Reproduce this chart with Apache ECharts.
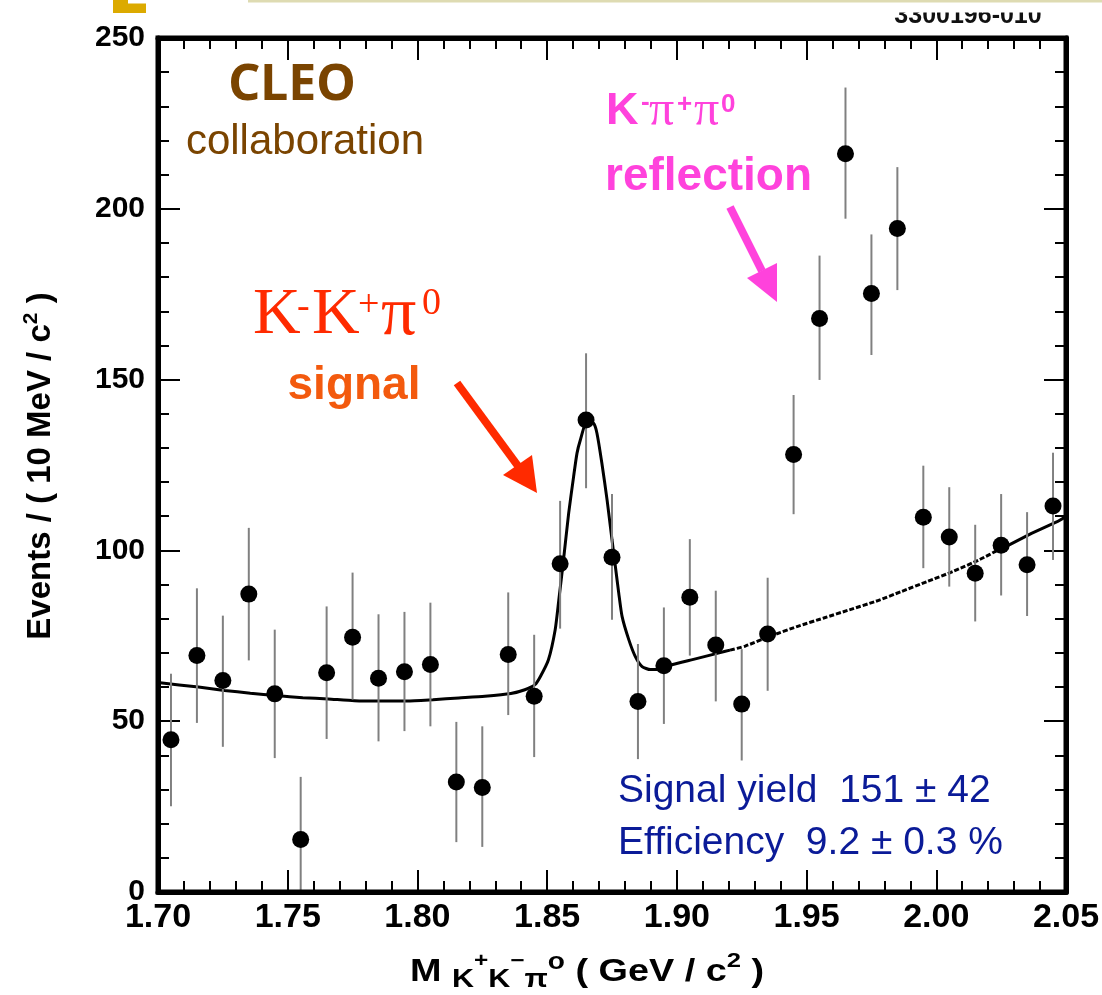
<!DOCTYPE html>
<html>
<head>
<meta charset="utf-8">
<script src="https://cdn.jsdelivr.net/npm/echarts@6.0.0/dist/echarts.min.js"></script>
<style>
html,body{margin:0;padding:0;background:#fff;}
#c{width:1102px;height:995px;}
</style>
</head>
<body>
<div id="c"></div>
<script>
// ---- data ----
const binCenters = [1.705,1.715,1.725,1.735,1.745,1.755,1.765,1.775,1.785,1.795,
  1.805,1.815,1.825,1.835,1.845,1.855,1.865,1.875,1.885,1.895,
  1.905,1.915,1.925,1.935,1.945,1.955,1.965,1.975,1.985,1.995,
  2.005,2.015,2.025,2.035,2.045];
const events = [44.6,69.2,61.9,87.2,58.0,15.4,64.2,74.6,62.6,64.5,
  66.6,32.2,30.6,69.5,57.3,96.1,138.2,98.0,55.8,66.2,
  86.3,72.3,55.0,75.5,128.1,167.9,216.1,175.2,194.2,109.7,
  103.9,93.3,101.5,95.8,113.0];
const errLow = [25.1,49.5,42.5,67.8,39.2,0,44.8,56.3,44.1,47.1,
  48.5,14.6,13.2,51.8,39.5,77.1,118.2,79.7,38.9,49.2,
  69.2,55.8,38.5,58.9,110.6,149.9,197.1,157.2,176.2,94.8,
  89.4,79.2,86.8,80.8,97.2];
const errHigh = [63.9,88.9,80.9,106.6,76.8,33.7,83.6,93.5,81.3,82.0,
  84.7,49.8,48.5,87.7,75.3,114.5,157.7,116.5,72.6,83.3,
  103.3,88.2,71.1,92.0,145.5,186.3,235.5,192.5,212.2,124.8,
  118.5,107.5,116.5,111.2,128.6];
// fit curve (solid part, dashed part over the reflection region, solid tail)
const fitMain = [[1.700,61.3],[1.7156,60.0],[1.7256,59.0],[1.7356,58.2],[1.7457,57.5],
  [1.7558,56.9],[1.7656,56.5],[1.7757,56.0],[1.7857,55.9],[1.796,55.9],[1.806,56.3],
  [1.816,56.8],[1.826,57.3],[1.836,58.1],[1.8414,59.2],[1.8453,60.7],[1.8474,63.1],
  [1.8505,68.0],[1.8531,76.8],[1.8545,85.5],[1.8563,97.2],[1.8583,110.9],[1.8602,121.6],
  [1.8615,128.4],[1.8628,132.3],[1.8653,137.7],[1.8679,137.2],[1.8692,134.3],[1.8711,125.5],
  [1.8731,114.8],[1.875,103.1],[1.8763,95.3],[1.8776,87.5],[1.8789,80.6],[1.8815,73.8],
  [1.884,68.9],[1.8866,66.0],[1.8898,65.1],[1.8937,65.3],[1.8966,66.2],[1.9064,68.1],
  [1.9163,70.0],[1.9205,70.8]];
const fitDashed = [[1.9205,70.8],[1.9264,72.0],[1.9364,75.0],[1.9463,77.7],[1.9566,80.2],
  [1.9665,82.6],[1.9767,85.1],[1.9867,88.0],[1.9965,90.9],[2.0067,93.9],[2.0167,97.3],[2.025,100.6]];
const fitTail = [[2.025,100.6],[2.0268,101.1],[2.0367,105.0],[2.0466,108.4],[2.05,109.9]];
// axes
const xTickLabels = ['1.70','1.75','1.80','1.85','1.90','1.95','2.00','2.05'];
const yTickLabels = ['0','50','100','150','200','250'];
const xMin = 1.70, xMax = 2.05, xStep = 0.05;
const yMin = 0, yMax = 250, yStep = 50;

// ---- chart ----
const chart = echarts.init(document.getElementById('c'), null, {renderer: 'canvas'});
const FONT = "'Liberation Sans', Arial, Helvetica, sans-serif";
const SERIF = "'Liberation Serif', 'Times New Roman', serif";

function axisBase(pos, isX, showLabel) {
  const a = {
    type: 'value',
    position: pos,
    min: isX ? xMin : yMin,
    max: isX ? xMax : yMax,
    interval: isX ? xStep : yStep,
    axisLine: {show: true, onZero: false, lineStyle: {color: '#000', width: 5}},
    axisTick: {show: true, inside: true, length: 22, lineStyle: {color: '#000', width: 2}},
    minorTick: {show: true, splitNumber: 5, length: 11, lineStyle: {color: '#000', width: 2}},
    splitLine: {show: false},
    minorSplitLine: {show: false},
    axisLabel: {show: showLabel}
  };
  if (showLabel) {
    if (isX) {
      a.axisLabel = {show: true, color: '#000', fontFamily: FONT, fontWeight: 'bold', fontSize: 34, margin: 9,
        formatter: v => xTickLabels[Math.round((v - xMin) / xStep)]};
    } else {
      a.axisLabel = {show: true, color: '#000', fontFamily: FONT, fontWeight: 'bold', fontSize: 30, margin: 13,
        formatter: v => yTickLabels[Math.round((v - yMin) / yStep)]};
    }
  }
  return a;
}

const txt = (o) => Object.assign({type: 'text', z: 100}, o);
const st = (o) => {
  const s = Object.assign({fontFamily: FONT}, o);
  if (s.align) s.textAlign = s.align;
  if (s.verticalAlign) s.textVerticalAlign = s.verticalAlign;
  return s;
};
const RED = '#ff2a00', ORANGE = '#f35a0e', MAG = '#ff42dc', BROWN = '#7a4400', BLUE = '#0b1b98';
const redShadow = {shadowColor: 'rgba(0,0,0,0.22)', shadowBlur: 2, shadowOffsetX: 2, shadowOffsetY: 2};

const graphics = [
  // slide decorations
  {type: 'rect', z: 100, shape: {x: 248, y: 0, width: 854, height: 2.5}, style: {fill: '#dedbb2'}},
  {type: 'rect', z: 100, shape: {x: 113, y: 0, width: 15, height: 13}, style: {fill: '#dcaa00'}},
  {type: 'rect', z: 100, shape: {x: 113, y: 3.5, width: 33, height: 9.5}, style: {fill: '#dcaa00'}},
  txt({x: 968, y: 16, style: st({text: '3300196-010', fontSize: 25, fontWeight: 'bold', fill: '#111', align: 'center', verticalAlign: 'middle'})}),
  {type: 'rect', z: 101, shape: {x: 880, y: 3, width: 180, height: 9.5}, style: {fill: '#fff'}},
  // CLEO
  txt({x: 292, y: 86, style: st(Object.assign({text: 'CLEO', fontFamily: "'Noto Sans', sans-serif", fontSize: 50, fontWeight: 'bold', fill: BROWN, align: 'center', verticalAlign: 'middle'}, {shadowColor: 'rgba(0,0,0,0.25)', shadowBlur: 2, shadowOffsetX: 2, shadowOffsetY: 2}))}),
  txt({x: 305, y: 142, style: st({text: 'collaboration', fontSize: 42, fill: BROWN, align: 'center', verticalAlign: 'middle'})}),
  // signal label
  txt({x: 253, y: 316, style: st(Object.assign({text: 'K', fontFamily: SERIF, fontSize: 66, fill: RED, align: 'left', verticalAlign: 'middle'}, redShadow))}),
  txt({x: 297, y: 308, style: st(Object.assign({text: '-', fontFamily: SERIF, fontSize: 38, fill: RED, align: 'left', verticalAlign: 'middle'}, redShadow))}),
  txt({x: 312, y: 316, style: st(Object.assign({text: 'K', fontFamily: SERIF, fontSize: 66, fill: RED, align: 'left', verticalAlign: 'middle'}, redShadow))}),
  txt({x: 358, y: 306, style: st(Object.assign({text: '+', fontFamily: SERIF, fontSize: 38, fill: RED, align: 'left', verticalAlign: 'middle'}, redShadow))}),
  txt({x: 381, y: 316, style: st(Object.assign({text: 'π', fontFamily: SERIF, fontSize: 70, fill: RED, align: 'left', verticalAlign: 'middle'}, redShadow))}),
  txt({x: 422, y: 304, style: st(Object.assign({text: '0', fontFamily: SERIF, fontSize: 38, fill: RED, align: 'left', verticalAlign: 'middle'}, redShadow))}),
  txt({x: 354, y: 386, style: st({text: 'signal', fontSize: 46, fontWeight: 'bold', fill: ORANGE, align: 'center', verticalAlign: 'middle'})}),
  {type: 'polyline', z: 100, shape: {points: [[457, 383], [518, 466]]}, style: {stroke: RED, lineWidth: 8, fill: null}},
  {type: 'polygon', z: 100, shape: {points: [[503, 475], [532, 455], [537, 493]]}, style: {fill: RED}},
  // reflection label
  txt({x: 606, y: 112, style: st({text: 'K', fontSize: 45, fontWeight: 'bold', fill: MAG, align: 'left', verticalAlign: 'middle'})}),
  txt({x: 641, y: 103, style: st({text: '-', fontSize: 26, fontWeight: 'bold', fill: MAG, align: 'left', verticalAlign: 'middle'})}),
  txt({x: 649, y: 112, style: st({text: 'π', fontFamily: SERIF, fontSize: 50, fill: MAG, align: 'left', verticalAlign: 'middle'})}),
  txt({x: 677, y: 105, style: st({text: '+', fontSize: 26, fontWeight: 'bold', fill: MAG, align: 'left', verticalAlign: 'middle'})}),
  txt({x: 694, y: 112, style: st({text: 'π', fontFamily: SERIF, fontSize: 50, fill: MAG, align: 'left', verticalAlign: 'middle'})}),
  txt({x: 721, y: 105, style: st({text: '0', fontSize: 26, fontWeight: 'bold', fill: MAG, align: 'left', verticalAlign: 'middle'})}),
  txt({x: 605, y: 177, style: st({text: 'reflection', fontSize: 46, fontWeight: 'bold', fill: MAG, align: 'left', verticalAlign: 'middle'})}),
  {type: 'polyline', z: 100, shape: {points: [[730, 207], [762, 271]]}, style: {stroke: MAG, lineWidth: 8, fill: null}},
  {type: 'polygon', z: 100, shape: {points: [[747, 278], [777, 263], [777, 302]]}, style: {fill: MAG}},
  // fit results
  txt({x: 618, y: 791, style: st({text: 'Signal yield  151 ± 42', fontSize: 39, fill: BLUE, align: 'left', verticalAlign: 'middle'})}),
  txt({x: 618, y: 843, style: st({text: 'Efficiency  9.2 ± 0.3 %', fontSize: 39, fill: BLUE, align: 'left', verticalAlign: 'middle'})}),
  // x axis title
  {type: 'text', z: 100, x: 587, y: 972, scaleX: 1.22,
    style: {
      text: '{m|M }{sb|K}{sp|+}{sb|K}{sp|−}{sb|π}{so|o}{m| ( GeV / c}{s2|2}{m| )}',
      align: 'center', verticalAlign: 'middle', textAlign: 'center', textVerticalAlign: 'middle',
      fill: '#000', fontFamily: FONT, fontWeight: 'bold', fontSize: 31,
      rich: {
        m: {fontFamily: FONT, fontWeight: 'bold', fontSize: 31, lineHeight: 42, fill: '#000', color: '#000'},
        sb: {fontFamily: FONT, fontWeight: 'bold', fontSize: 25, lineHeight: 22, verticalAlign: 'bottom', fill: '#000', color: '#000'},
        sp: {fontFamily: FONT, fontWeight: 'bold', fontSize: 20, lineHeight: 32, verticalAlign: 'top', fill: '#000', color: '#000'},
        so: {fontFamily: FONT, fontWeight: 'bold', fontSize: 23, lineHeight: 32, verticalAlign: 'top', fill: '#000', color: '#000'},
        s2: {fontFamily: FONT, fontWeight: 'bold', fontSize: 21, lineHeight: 6, verticalAlign: 'top', fill: '#000', color: '#000'}
      }
    }},
  // y axis title
  {type: 'text', z: 100, x: 41, y: 466, rotation: Math.PI / 2,
    style: {
      text: '{a|Events / ( 10 MeV / c}{s|2}{a| )}',
      align: 'center', verticalAlign: 'middle', textAlign: 'center', textVerticalAlign: 'middle',
      fill: '#000', fontFamily: FONT, fontWeight: 'bold', fontSize: 33,
      rich: {
        a: {fontFamily: FONT, fontWeight: 'bold', fontSize: 33, lineHeight: 40, fill: '#000', color: '#000'},
        s: {fontFamily: FONT, fontWeight: 'bold', fontSize: 21, lineHeight: 4, verticalAlign: 'top', fill: '#000', color: '#000'}
      }
    }}
];

const option = {
  backgroundColor: '#fff',
  animation: false,
  grid: {left: 158, right: 36, top: 38, bottom: 103, containLabel: false, outerBoundsMode: 'none',
    show: true, borderWidth: 5, borderColor: '#000', backgroundColor: 'transparent', z: 6},
  xAxis: [axisBase('bottom', true, true), axisBase('top', true, false)],
  yAxis: [axisBase('left', false, true), axisBase('right', false, false)],
  series: [
    {type: 'line', xAxisIndex: 0, yAxisIndex: 0, data: fitMain, showSymbol: false, symbol: 'none', smooth: 0.2,
      lineStyle: {color: '#000', width: 3}, z: 2, silent: true},
    {type: 'line', xAxisIndex: 0, yAxisIndex: 0, data: fitDashed, showSymbol: false, symbol: 'none', smooth: 0.2,
      lineStyle: {color: '#000', width: 3, type: [5, 2]}, z: 2, silent: true},
    {type: 'line', xAxisIndex: 0, yAxisIndex: 0, data: fitTail, showSymbol: false, symbol: 'none',
      lineStyle: {color: '#000', width: 3}, z: 2, silent: true},
    {type: 'custom', xAxisIndex: 0, yAxisIndex: 0, z: 3, clip: true,
      data: binCenters.map((x, i) => [x, errLow[i], errHigh[i]]),
      encode: {x: 0, y: [1, 2]},
      renderItem: function (params, api) {
        const x = api.value(0);
        const p1 = api.coord([x, api.value(1)]);
        const p2 = api.coord([x, api.value(2)]);
        return {type: 'line', shape: {x1: p1[0], y1: p1[1], x2: p2[0], y2: p2[1]},
          style: {stroke: '#808080', lineWidth: 2}};
      }},
    {type: 'scatter', xAxisIndex: 0, yAxisIndex: 0, z: 4,
      data: binCenters.map((x, i) => [x, events[i]]),
      symbol: 'circle', symbolSize: 17, itemStyle: {color: '#000', opacity: 1}}
  ],
  graphic: graphics
};
chart.setOption(option);
</script>
</body>
</html>
